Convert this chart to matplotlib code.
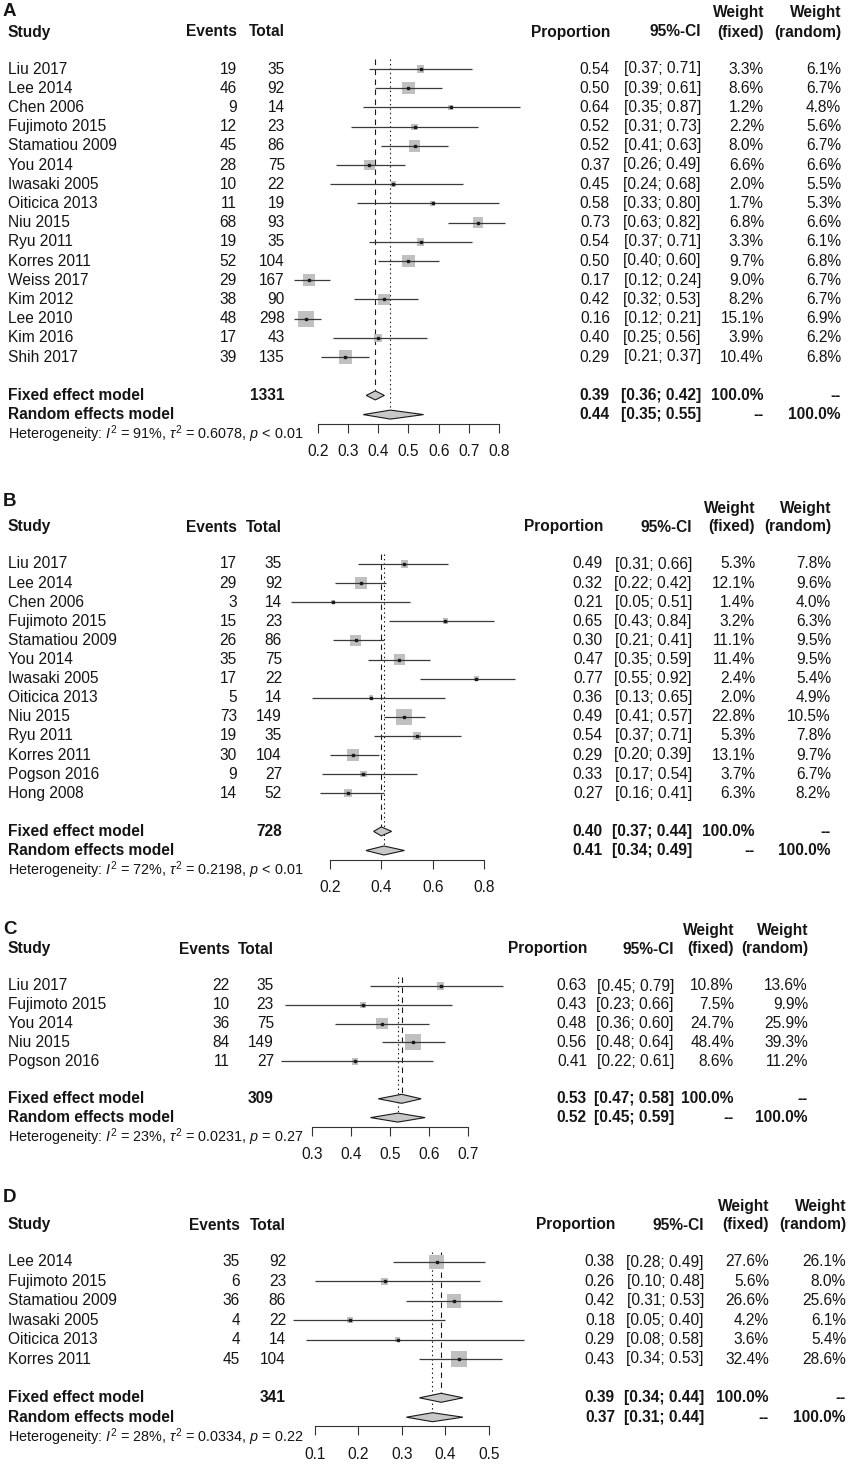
import numpy as np
import matplotlib
matplotlib.use("Agg")
from matplotlib import pyplot as plt
from matplotlib import transforms
from matplotlib.patches import Polygon

### panel A
studies_A = ["Liu 2017", "Lee 2014", "Chen 2006", "Fujimoto 2015", "Stamatiou 2009", "You 2014",
             "Iwasaki 2005", "Oiticica 2013", "Niu 2015", "Ryu 2011", "Korres 2011", "Weiss 2017",
             "Kim 2012", "Lee 2010", "Kim 2016", "Shih 2017"]
events_A = [19, 46, 9, 12, 45, 28, 10, 11, 68, 19, 52, 29, 38, 48, 17, 39]
total_A = [35, 92, 14, 23, 86, 75, 22, 19, 93, 35, 104, 167, 90, 298, 43, 135]
prop_A = [0.54, 0.50, 0.64, 0.52, 0.52, 0.37, 0.45, 0.58, 0.73, 0.54, 0.50, 0.17, 0.42, 0.16, 0.40, 0.29]
lo_A = [0.37, 0.39, 0.35, 0.31, 0.41, 0.26, 0.24, 0.33, 0.63, 0.37, 0.40, 0.12, 0.32, 0.12, 0.25, 0.21]
hi_A = [0.71, 0.61, 0.87, 0.73, 0.63, 0.49, 0.68, 0.80, 0.82, 0.71, 0.60, 0.24, 0.53, 0.21, 0.56, 0.37]
wf_A = [3.3, 8.6, 1.2, 2.2, 8.0, 6.6, 2.0, 1.7, 6.8, 3.3, 9.7, 9.0, 8.2, 15.1, 3.9, 10.4]
wr_A = [6.1, 6.7, 4.8, 5.6, 6.7, 6.6, 5.5, 5.3, 6.6, 6.1, 6.8, 6.7, 6.7, 6.9, 6.2, 6.8]
summ_A = [1331, 0.39, 0.36, 0.42, 0.44, 0.35, 0.55]  # N, fixed est/lo/hi, random est/lo/hi
het_A = ["91%", "0.6078", "< 0.01"]
ticks_A = [0.2, 0.3, 0.4, 0.5, 0.6, 0.7, 0.8]

### panel B
studies_B = ["Liu 2017", "Lee 2014", "Chen 2006", "Fujimoto 2015", "Stamatiou 2009", "You 2014",
             "Iwasaki 2005", "Oiticica 2013", "Niu 2015", "Ryu 2011", "Korres 2011", "Pogson 2016",
             "Hong 2008"]
events_B = [17, 29, 3, 15, 26, 35, 17, 5, 73, 19, 30, 9, 14]
total_B = [35, 92, 14, 23, 86, 75, 22, 14, 149, 35, 104, 27, 52]
prop_B = [0.49, 0.32, 0.21, 0.65, 0.30, 0.47, 0.77, 0.36, 0.49, 0.54, 0.29, 0.33, 0.27]
lo_B = [0.31, 0.22, 0.05, 0.43, 0.21, 0.35, 0.55, 0.13, 0.41, 0.37, 0.20, 0.17, 0.16]
hi_B = [0.66, 0.42, 0.51, 0.84, 0.41, 0.59, 0.92, 0.65, 0.57, 0.71, 0.39, 0.54, 0.41]
wf_B = [5.3, 12.1, 1.4, 3.2, 11.1, 11.4, 2.4, 2.0, 22.8, 5.3, 13.1, 3.7, 6.3]
wr_B = [7.8, 9.6, 4.0, 6.3, 9.5, 9.5, 5.4, 4.9, 10.5, 7.8, 9.7, 6.7, 8.2]
summ_B = [728, 0.40, 0.37, 0.44, 0.41, 0.34, 0.49]
het_B = ["72%", "0.2198", "< 0.01"]
ticks_B = [0.2, 0.4, 0.6, 0.8]

### panel C
studies_C = ["Liu 2017", "Fujimoto 2015", "You 2014", "Niu 2015", "Pogson 2016"]
events_C = [22, 10, 36, 84, 11]
total_C = [35, 23, 75, 149, 27]
prop_C = [0.63, 0.43, 0.48, 0.56, 0.41]
lo_C = [0.45, 0.23, 0.36, 0.48, 0.22]
hi_C = [0.79, 0.66, 0.60, 0.64, 0.61]
wf_C = [10.8, 7.5, 24.7, 48.4, 8.6]
wr_C = [13.6, 9.9, 25.9, 39.3, 11.2]
summ_C = [309, 0.53, 0.47, 0.58, 0.52, 0.45, 0.59]
het_C = ["23%", "0.0231", "= 0.27"]
ticks_C = [0.3, 0.4, 0.5, 0.6, 0.7]

### panel D
studies_D = ["Lee 2014", "Fujimoto 2015", "Stamatiou 2009", "Iwasaki 2005", "Oiticica 2013", "Korres 2011"]
events_D = [35, 6, 36, 4, 4, 45]
total_D = [92, 23, 86, 22, 14, 104]
prop_D = [0.38, 0.26, 0.42, 0.18, 0.29, 0.43]
lo_D = [0.28, 0.10, 0.31, 0.05, 0.08, 0.34]
hi_D = [0.49, 0.48, 0.53, 0.40, 0.58, 0.53]
wf_D = [27.6, 5.6, 26.6, 4.2, 3.6, 32.4]
wr_D = [26.1, 8.0, 25.6, 6.1, 5.4, 28.6]
summ_D = [341, 0.39, 0.34, 0.44, 0.37, 0.31, 0.44]
het_D = ["28%", "0.0334", "= 0.22"]
ticks_D = [0.1, 0.2, 0.3, 0.4, 0.5]

W, H = 853, 1468
FS = 11.2
FS_HET = 10.4
TXT = "#151515"

plt.rcParams['font.family'] = ['Liberation Sans', 'DejaVu Sans']
plt.rcParams['mathtext.fontset'] = 'custom'
plt.rcParams['mathtext.rm'] = 'Liberation Sans'
plt.rcParams['mathtext.it'] = 'Liberation Sans:italic'
plt.rcParams['mathtext.bf'] = 'Liberation Sans:bold'

fig = plt.figure(figsize=(W / 100, H / 100), dpi=100)


def fx(px):
	return px / W


def forest(letter, studies, events, total, prop, lo, hi, wf, wr, summ, het, ticks, lay):
	n = len(studies)
	s = lay['step']
	y0 = lay['first']
	ax_l, ax_r = 280, 560
	r_fix = n + 1
	r_ran = n + 2
	top_row = -2.0
	bot_row = r_ran + 9.0 / s
	top_px = y0 + top_row * s
	bot_px = y0 + bot_row * s
	ax = fig.add_axes([fx(ax_l), 1 - bot_px / H, fx(ax_r - ax_l), (bot_px - top_px) / H])
	ax.patch.set_alpha(0)

	# x scale taken from the tick positions
	v0, v1 = ticks[0], ticks[-1]
	p0, p1 = lay['tick_px']
	k = (p1 - p0) / (v1 - v0)
	ax.set_xlim(v0 - (p0 - ax_l) / k, v0 + (ax_r - p0) / k)
	ax.set_ylim(bot_row, top_row)

	for sp in ['top', 'left', 'right']:
		ax.spines[sp].set_visible(False)
	ax.spines['bottom'].set_bounds(v0, v1)
	ax.spines['bottom'].set_color("#333333")
	ax.spines['bottom'].set_linewidth(0.8)
	ax.set_yticks([])
	ax.set_xticks(ticks)
	ax.set_xticklabels(["%.1f" % t for t in ticks])
	ax.tick_params(axis='x', direction='out', length=6.5, width=0.8, pad=8.5,
		labelsize=FS, colors="#333333", labelcolor=TXT)

	rows = np.arange(n)
	wmax = max(wf)
	side = 16.0 * np.sqrt(np.array(wf) / wmax)
	ax.scatter(prop, rows, s=(side * 0.72) ** 2, marker='s', color="#c0c0c0", lw=0, zorder=2, clip_on=False)
	ax.hlines(rows, lo, hi, color="#3a3a3a", lw=0.9, zorder=3, clip_on=False)
	ax.plot(prop, rows, ls='none', marker='s', ms=1.6, color="#1a1a1a", zorder=4, clip_on=False)

	# diamonds
	h = 4.5 / s
	for r, (e, a, b) in [(r_fix, summ[1:4]), (r_ran, summ[4:7])]:
		ax.add_patch(Polygon([(a, r), (e, r - h), (b, r), (e, r + h)], closed=True,
			fc="#c8c8c8", ec="#1a1a1a", lw=0.8, zorder=4, clip_on=False))

	# reference lines
	ax.vlines(summ[1], -0.5, r_fix - h, color="#1a1a1a", lw=0.8, linestyles=(0, (5, 4)), zorder=1)
	ax.vlines(summ[4], -0.5, r_ran - h, color="#1a1a1a", lw=0.8, linestyles=(0, (1.3, 2.7)), zorder=1)

	tr = transforms.blended_transform_factory(fig.transFigure, ax.transData)
	c_ev, c_tot, c_p, c_ci, c_wf, c_wr = lay['cols']

	def t(px, row, txt, ha='right', bold=False, size=FS):
		ax.text(fx(px), row, txt, transform=tr, ha=ha, va='center', fontsize=size,
			fontweight='bold' if bold else 'normal', color=TXT)

	# header
	hr = -37.0 / s
	wr_row = -56.0 / s
	fig.text(fx(3), 1 - lay['letter'] / H, letter, ha='left', va='center', fontsize=13.5,
		fontweight='bold', color=TXT)
	t(8, hr, "Study", ha='left', bold=True)
	t(c_ev, hr, "Events", bold=True)
	t(c_tot, hr, "Total", bold=True)
	t(c_p, hr, "Proportion", bold=True)
	t(c_ci, hr, "95%-CI", bold=True)
	t(c_wf, wr_row, "Weight", bold=True)
	t(c_wf, hr, "(fixed)", bold=True)
	t(c_wr, wr_row, "Weight", bold=True)
	t(c_wr, hr, "(random)", bold=True)

	for i in range(n):
		t(8, i, studies[i], ha='left')
		t(c_ev, i, str(events[i]))
		t(c_tot, i, str(total[i]))
		t(c_p, i, "%.2f" % prop[i])
		t(c_ci, i, "[%.2f; %.2f]" % (lo[i], hi[i]))
		t(c_wf, i, "%.1f%%" % wf[i])
		t(c_wr, i, "%.1f%%" % wr[i])

	t(8, r_fix, "Fixed effect model", ha='left', bold=True)
	t(c_tot, r_fix, str(summ[0]), bold=True)
	t(c_p, r_fix, "%.2f" % summ[1], bold=True)
	t(c_ci, r_fix, "[%.2f; %.2f]" % (summ[2], summ[3]), bold=True)
	t(c_wf, r_fix, "100.0%", bold=True)
	t(c_wr, r_fix, "--", bold=True)

	t(8, r_ran, "Random effects model", ha='left', bold=True)
	t(c_p, r_ran, "%.2f" % summ[4], bold=True)
	t(c_ci, r_ran, "[%.2f; %.2f]" % (summ[5], summ[6]), bold=True)
	t(c_wf, r_ran, "--", bold=True)
	t(c_wr, r_ran, "100.0%", bold=True)

	het_txt = r"Heterogeneity: $I^2$ = %s, $\tau^2$ = %s, $p$ %s" % (het[0], het[1], het[2])
	t(8, r_ran + 20.0 / s, het_txt, ha='left', size=FS_HET)


lay_A = dict(first=69, step=19.2, letter=12, tick_px=(318, 499), cols=(237, 285, 610, 701, 764, 841))
lay_B = dict(first=564, step=19.1, letter=502, tick_px=(330, 484), cols=(237, 282, 603, 692, 755, 831))
lay_C = dict(first=986, step=18.8, letter=930, tick_px=(312, 468), cols=(230, 274, 587, 674, 734, 808))
lay_D = dict(first=1262, step=19.4, letter=1198, tick_px=(315, 489), cols=(240, 286, 615, 704, 769, 846))

forest("A", studies_A, events_A, total_A, prop_A, lo_A, hi_A, wf_A, wr_A, summ_A, het_A, ticks_A, lay_A)
forest("B", studies_B, events_B, total_B, prop_B, lo_B, hi_B, wf_B, wr_B, summ_B, het_B, ticks_B, lay_B)
forest("C", studies_C, events_C, total_C, prop_C, lo_C, hi_C, wf_C, wr_C, summ_C, het_C, ticks_C, lay_C)
forest("D", studies_D, events_D, total_D, prop_D, lo_D, hi_D, wf_D, wr_D, summ_D, het_D, ticks_D, lay_D)

fig.savefig("out.png", dpi=100, facecolor="white")
